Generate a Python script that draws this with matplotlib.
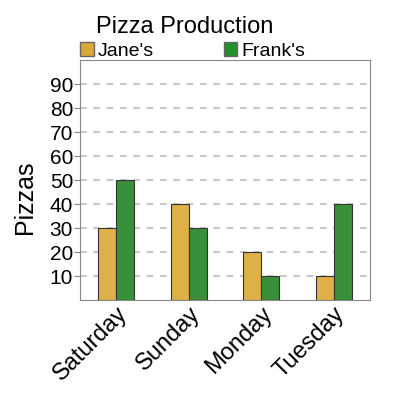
import numpy as np
import matplotlib
matplotlib.use("Agg")
import matplotlib.pyplot as plt
from matplotlib.patches import Patch

plt.rcParams['font.family'] = ['Liberation Sans', 'DejaVu Sans']

days = ["Saturday", "Sunday", "Monday", "Tuesday"]
janes = [30, 40, 20, 10]
franks = [50, 30, 10, 40]
yticks = [10, 20, 30, 40, 50, 60, 70, 80, 90]

jane_color = "#DEB047"
frank_color = "#3A8F3A"

fig = plt.figure(figsize=(4, 4), dpi=100)
ax = fig.add_axes([0.2, 0.25, 0.725, 0.6])

x = np.arange(len(days))
w = 0.25
ax.bar(x - w / 2, janes, w, color=jane_color, edgecolor="#333333", linewidth=0.8, zorder=3)
ax.bar(x + w / 2, franks, w, color=frank_color, edgecolor="#333333", linewidth=0.8, zorder=3)

ax.set_xlim(-0.5, 3.5)
ax.set_ylim(0, 100)
ax.set_yticks(yticks)
ax.tick_params(axis='y', labelsize=15, length=4, color="#888888", pad=1)
ax.tick_params(axis='x', length=0, labelsize=17, pad=2)
ax.set_xticks(x)
ax.set_xticklabels(days, rotation=45, ha="right", rotation_mode="anchor")
ax.grid(axis='y', linestyle=(0, (4, 4)), color="#bbbbbb", linewidth=1.2, zorder=0)
for s in ax.spines.values():
    s.set_color("#888888")
ax.set_ylabel("Pizzas", fontsize=18)
ax.yaxis.set_label_coords(-0.15, 0.43)

fig.text(0.24, 0.905, "Pizza Production", fontsize=17, ha="left", va="bottom")
handles = [Patch(facecolor="#DAA83A", edgecolor="#666666", label="Jane's"),
           Patch(facecolor="#22902A", edgecolor="#666666", label="Frank's")]
fig.legend(handles=handles, loc="lower left", bbox_to_anchor=(0.2, 0.85), ncol=2,
           frameon=False, fontsize=14, handlelength=0.7, handleheight=0.7,
           handletextpad=0.2, columnspacing=3.6, borderpad=0, borderaxespad=0)

fig.savefig("out.png", dpi=100)
